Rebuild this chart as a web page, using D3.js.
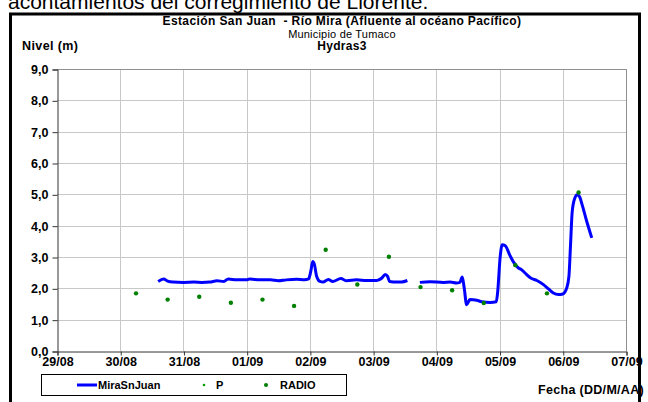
<!doctype html>
<html lang="es">
<head>
	<meta charset="UTF-8">
	<title>Estación San Juan - Río Mira</title>
	<style>
		body { margin: 0; background: #fff; }
		svg { display: block; font-family: Arial, "Liberation Sans", sans-serif; }
		.tick-label { font-size: 12.5px; font-weight: bold; fill: #000; }
		.grid line { stroke: #c8c8c8; stroke-width: 1; }
	</style>
</head>
<body>
	<script src="https://cdnjs.cloudflare.com/ajax/libs/d3/7.8.5/d3.min.js"></script>
	<script>
		// nivel MiraSnJuan (m), null = hueco en la serie
		var levelTimes = [
			'30/08 14:24', '30/08 16:30', '30/08 18:00', '30/08 20:00', '31/08 00:00', '31/08 04:00',
			'31/08 07:00', '31/08 10:00', '31/08 12:45', '31/08 15:20', '31/08 17:00', '31/08 20:10',
			'01/09 00:00', '01/09 01:10', '01/09 05:00', '01/09 09:00', '01/09 12:00', '01/09 15:00',
			'01/09 19:00', '01/09 22:00', '01/09 23:30', '02/09 00:20', '02/09 01:05', '02/09 01:40',
			'02/09 02:35', '02/09 03:50', '02/09 05:00', '02/09 07:00', '02/09 08:40', '02/09 11:45',
			'02/09 14:00', '02/09 17:45', '02/09 21:35', '03/09 01:25', '03/09 03:20', '03/09 04:35',
			'03/09 05:30', '03/09 06:15', '03/09 09:00', '03/09 10:50', '03/09 13:00', '03/09 15:00',
			'03/09 17:45', '03/09 21:35', '04/09 02:40', '04/09 05:15', '04/09 07:40', '04/09 08:55',
			'04/09 09:50', '04/09 10:35', '04/09 11:30', '04/09 12:45', '04/09 15:20', '04/09 17:15',
			'04/09 20:25', '04/09 22:45', '04/09 23:15', '05/09 00:15', '05/09 01:00', '05/09 02:10',
			'05/09 03:50', '05/09 05:30', '05/09 07:10', '05/09 08:25', '05/09 09:40', '05/09 11:50',
			'05/09 14:10', '05/09 16:40', '05/09 18:35', '05/09 20:25', '05/09 22:20', '06/09 00:00',
			'06/09 01:30', '06/09 02:20', '06/09 02:55', '06/09 03:35', '06/09 04:35', '06/09 05:30',
			'06/09 06:20', '06/09 07:20', '06/09 08:55', '06/09 11:00'
		];
		var levelValues = [
			2.22, 2.30, 2.23, 2.20, 2.19, 2.20,
			2.19, 2.20, 2.24, 2.22, 2.30, 2.27,
			2.27, 2.30, 2.27, 2.27, 2.24, 2.27,
			2.29, 2.27, 2.30, 2.54, 2.86, 2.78,
			2.38, 2.22, 2.20, 2.28, 2.22, 2.31,
			2.24, 2.27, 2.25, 2.25, 2.33, 2.44,
			2.38, 2.22, 2.20, 2.20, 2.25, null,
			2.19, 2.21, 2.19, 2.20, 2.17, 2.19,
			2.36, 2.01, 1.48, 1.64, 1.62, 1.57,
			1.55, 1.57, 1.85, 3.02, 3.39, 3.36,
			3.07, 2.81, 2.65, 2.59, 2.49, 2.33,
			2.25, 2.12, 1.98, 1.85, 1.80, 1.82,
			2.01, 2.38, 3.34, 4.45, 4.88, 4.99,
			4.93, 4.67, 4.19, 3.61
		];

		// lecturas RADIO (06:00 y 18:00)
		var radioTimes = [
			'30/08 06:00', '30/08 18:00', '31/08 06:00', '31/08 18:00', '01/09 06:00',
			'01/09 18:00', '02/09 06:00', '02/09 18:00', '03/09 06:00', '03/09 18:00',
			'04/09 06:00', '04/09 18:00', '05/09 06:00', '05/09 18:00', '06/09 06:00'
		];
		var radioValues = [1.84, 1.64, 1.73, 1.54, 1.64, 1.44, 3.23, 2.12, 3.01, 2.04, 1.94, 1.53, 2.74, 1.84, 5.06];

		var yTicks = [0, 1, 2, 3, 4, 5, 6, 7, 8, 9];
		var dayTicks = ['29/08', '30/08', '31/08', '01/09', '02/09', '03/09', '04/09', '05/09', '06/09', '07/09'];

		var w = 648,
			h = 402,
			plotLeft = 57,
			plotRight = 626,
			plotTop = 69,
			plotBottom = 351;

		var parseTime = d3.timeParse('%d/%m/%Y %H:%M');
		var parseStamp = function(s) {
			var parts = s.split(' ');
			return parseTime(parts[0] + '/2010 ' + parts[1]);
		};
		var parseDay = function(s) {
			return parseStamp(s + ' 00:00');
		};

		var svg = d3.select('body')
			.append('svg')
			.attr('width', w)
			.attr('height', h);

		var xScale = d3.scaleTime()
			.domain([parseDay(dayTicks[0]), parseDay(dayTicks[dayTicks.length - 1])])
			.range([plotLeft, plotRight]);

		var yScale = d3.scaleLinear()
			.domain([0, 9])
			.range([plotBottom, plotTop]);

		/**
		* marco y texto del documento
		*/
		var drawFrame = function() {
			svg.append('text')
				.attr('x', 8)
				.attr('y', 9)
				.style('font-size', '21px')
				.text('acontamientos del corregimiento de Llorente.');

			svg.append('rect')
				.attr('x', 10.5)
				.attr('y', 14)
				.attr('width', 629)
				.attr('height', 400)
				.attr('fill', 'none')
				.attr('stroke', '#000')
				.attr('stroke-width', 3);
		};

		/**
		* rejilla y ejes
		*/
		var drawAxes = function() {
			var grid = svg.append('g').attr('class', 'grid');

			grid.selectAll('line.h')
				.data(yTicks.slice(1))
				.enter()
				.append('line')
				.attr('x1', plotLeft)
				.attr('x2', plotRight)
				.attr('y1', function(d) { return Math.round(yScale(d)) + 0.5; })
				.attr('y2', function(d) { return Math.round(yScale(d)) + 0.5; });

			grid.selectAll('line.v')
				.data(dayTicks.slice(1))
				.enter()
				.append('line')
				.attr('x1', function(d) { return Math.round(xScale(parseDay(d))) + 0.5; })
				.attr('x2', function(d) { return Math.round(xScale(parseDay(d))) + 0.5; })
				.attr('y1', plotTop)
				.attr('y2', plotBottom);

			// borde superior y derecho
			svg.append('path')
				.attr('d', 'M' + plotLeft + ',' + (plotTop + 0.5) + 'H' + (plotRight + 0.5) + 'V' + plotBottom)
				.attr('fill', 'none')
				.attr('stroke', '#909090');

			var yAxis = d3.axisLeft(yScale)
				.tickValues(yTicks)
				.tickSize(5)
				.tickFormat(function(d) { return d3.format('.1f')(d).replace('.', ','); });

			var gy = svg.append('g')
				.attr('transform', 'translate(' + (plotLeft + 0.5) + ',0.5)')
				.call(yAxis);
			gy.select('.domain').attr('stroke', '#333');
			gy.selectAll('.tick line').attr('stroke', '#333');
			gy.selectAll('.tick text').attr('class', 'tick-label').attr('x', -9);

			var xAxis = d3.axisBottom(xScale)
				.tickValues(dayTicks.map(parseDay))
				.tickSize(4)
				.tickFormat(d3.timeFormat('%d/%m'));

			var gx = svg.append('g')
				.attr('transform', 'translate(0.5,' + (plotBottom + 0.5) + ')')
				.call(xAxis);
			gx.select('.domain').attr('stroke', '#333');
			gx.selectAll('.tick line').attr('stroke', '#333');
			gx.selectAll('.tick text').attr('class', 'tick-label').attr('y', 6);
		};

		/**
		* serie y puntos
		*/
		var drawGraph = function() {
			var pts = levelTimes.map(function(t, i) {
				return [parseStamp(t), levelValues[i]];
			});

			var line = d3.line()
				.defined(function(d) { return d[1] !== null; })
				.x(function(d) { return xScale(d[0]); })
				.y(function(d) { return yScale(d[1]); })
				.curve(d3.curveMonotoneX);

			svg.append('path')
				.datum(pts)
				.attr('d', line)
				.attr('fill', 'none')
				.attr('stroke', '#0000ff')
				.attr('stroke-width', 3)
				.attr('stroke-linejoin', 'round');

			svg.selectAll('circle.radio')
				.data(radioTimes)
				.enter()
				.append('circle')
				.attr('class', 'radio')
				.attr('cx', function(d) { return xScale(parseStamp(d)); })
				.attr('cy', function(d, i) { return yScale(radioValues[i]); })
				.attr('r', 2.2)
				.attr('fill', '#008000');
		};

		/**
		* titulos y leyenda
		*/
		var drawLabels = function() {
			var titles = [
				{ t: 'Estación San Juan  - Río Mira (Afluente al océano Pacífico)', y: 25, b: true, s: '12px', ls: '0.4px' },
				{ t: 'Municipio de Tumaco', y: 37.5, b: false, s: '11px', ls: '0.2px' },
				{ t: 'Hydras3', y: 49.5, b: true, s: '12px', ls: '0.3px' }
			];
			svg.selectAll('text.title')
				.data(titles)
				.enter()
				.append('text')
				.attr('class', 'title')
				.attr('x', 342)
				.attr('y', function(d) { return d.y; })
				.attr('text-anchor', 'middle')
				.style('font-size', function(d) { return d.s; })
				.style('letter-spacing', function(d) { return d.ls; })
				.style('font-weight', function(d) { return d.b ? 'bold' : 'normal'; })
				.style('white-space', 'pre')
				.text(function(d) { return d.t; });

			svg.append('text')
				.attr('x', 22)
				.attr('y', 50)
				.style('font-size', '12.5px')
				.style('letter-spacing', '0.4px')
				.style('font-weight', 'bold')
				.text('Nivel (m)');

			svg.append('text')
				.attr('x', 644)
				.attr('y', 394)
				.attr('text-anchor', 'end')
				.style('font-size', '12.5px')
				.style('letter-spacing', '0.3px')
				.style('font-weight', 'bold')
				.text('Fecha (DD/M/AA)');

			var lg = svg.append('g');
			lg.append('rect')
				.attr('x', 41.5)
				.attr('y', 374.5)
				.attr('width', 305)
				.attr('height', 21)
				.attr('fill', '#fff')
				.attr('stroke', '#000');
			lg.append('line')
				.attr('x1', 77).attr('x2', 97)
				.attr('y1', 385).attr('y2', 385)
				.attr('stroke', '#0000ff')
				.attr('stroke-width', 3);
			lg.append('circle').attr('cx', 204).attr('cy', 385).attr('r', 1.3).attr('fill', '#00a000');
			lg.append('circle').attr('cx', 266).attr('cy', 385).attr('r', 2).attr('fill', '#008000');

			var items = [['MiraSnJuan', 98], ['P', 216], ['RADIO', 280]];
			lg.selectAll('text')
				.data(items)
				.enter()
				.append('text')
				.attr('x', function(d) { return d[1]; })
				.attr('y', 389)
				.style('font-size', '11px')
				.style('font-weight', 'bold')
				.text(function(d) { return d[0]; });
		};

		drawFrame();
		drawAxes();
		drawGraph();
		drawLabels();
	</script>
</body>
</html>
